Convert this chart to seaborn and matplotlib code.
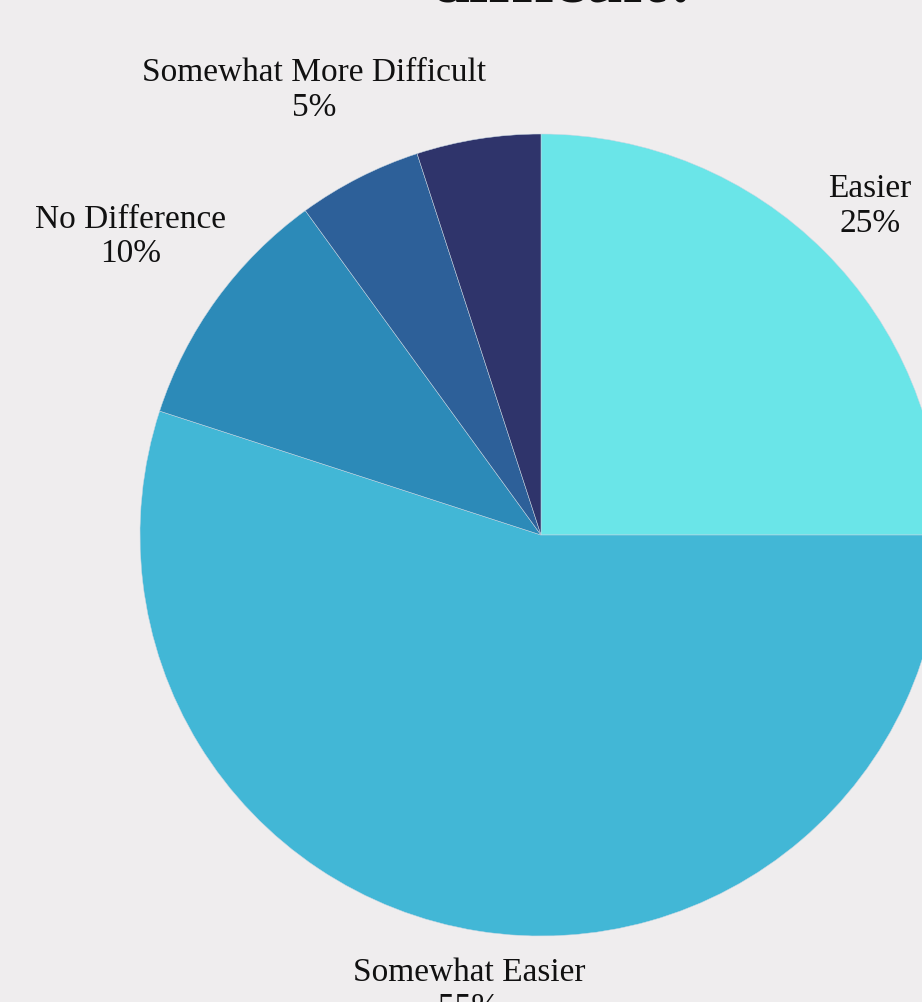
import numpy as np
import seaborn as sns
import matplotlib.pyplot as plt

# data
categories = ["Easier", "Somewhat Easier", "No Difference",
              "Somewhat More Difficult", "More Difficult"]
shares = [25, 55, 10, 5, 5]
show_label = [True, True, True, True, False]
slice_colors = ["#6ae5e8", "#42b7d6", "#2c8ab8", "#2d6099", "#2f346b"]
label_dist = [1.16, 1.15, 1.265, 1.245, 1.25]

bg = "#efedee"

sns.set_theme(style="white")
plt.rcParams['font.family'] = ['Liberation Serif', 'DejaVu Serif']

fig = plt.figure(figsize=(9.22, 10.02), dpi=100, facecolor=bg)

# pie centre (541, 535) px, radius ~401 px -> axes spans beyond right edge
cx, cy, r = 541, 535, 401
W, H = 922, 1002
ax = fig.add_axes([(cx - r) / W, (H - cy - r) / H, 2 * r / W, 2 * r / H])
ax.set_facecolor(bg)
ax.axis('off')

palette = sns.color_palette(slice_colors)
wedges, _ = ax.pie(shares, colors=palette, startangle=90, counterclock=False,
                   radius=1, wedgeprops=dict(edgecolor="#c8d8e4", linewidth=0.35))
ax.set_xlim(-1, 1)
ax.set_ylim(-1, 1)

for w, name, val, show, d in zip(wedges, categories, shares, show_label, label_dist):
    if not show:
        continue
    ang = np.deg2rad((w.theta1 + w.theta2) / 2)
    ax.text(d * np.cos(ang), d * np.sin(ang), f"{name}\n{val}%",
            ha='center', va='center', fontsize=24, color='#111111',
            linespacing=1.17, clip_on=False)

# title, mostly cut off at the top of the frame
fig.text(0.613, 1 - 1 / H, "difficult?", ha='center', va='baseline',
         fontsize=50, fontweight='bold', color='#111111')

fig.savefig("out.png", dpi=100, facecolor=bg)
